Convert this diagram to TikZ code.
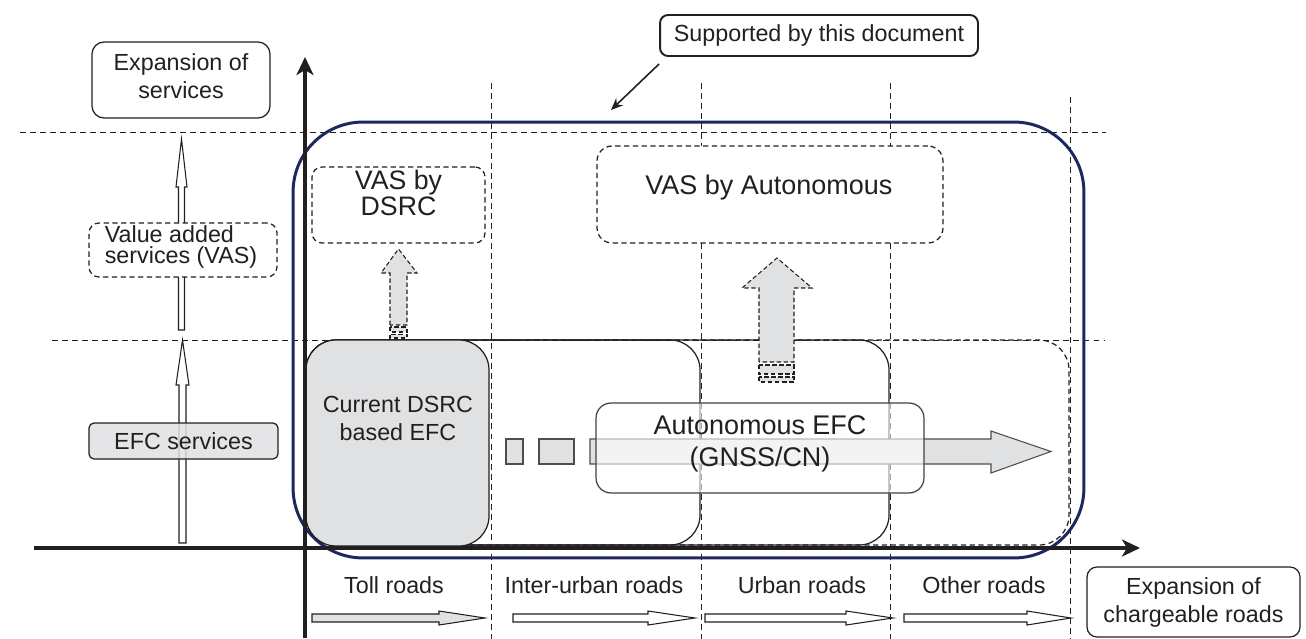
\documentclass[tikz,border=0pt]{standalone}
\usepackage{fontspec}
\setmainfont{Liberation Sans}
\usetikzlibrary{arrows.meta}
\definecolor{navy}{RGB}{30,40,95}
\definecolor{lgrey}{RGB}{224,225,227}
\definecolor{ink}{RGB}{35,31,32}
\newcommand{\tightlines}{\lineskiplimit=-20pt\relax}
\begin{document}
\begin{tikzpicture}[x=0.02cm,y=-0.02cm,
  every node/.style={text=ink, inner sep=0pt, font=\fontsize{13.26}{15.93}\selectfont},
  guide/.style={draw=ink, line width=0.55pt, dash pattern=on 3.4pt off 2.3pt},
  rbox/.style={draw=ink, line width=0.7pt, align=center},
  dbox/.style={draw=ink, line width=0.7pt, dash pattern=on 3pt off 2pt, fill=white},
  roadbox/.style={draw=ink, line width=0.7pt, rounded corners=0.6cm},
  upar/.style={draw=ink, fill=lgrey, line width=0.6pt, dash pattern=on 2.5pt off 1.5pt},
  rar/.style={draw=ink!80, fill=lgrey, line width=0.6pt},
  hol/.style={draw=ink, fill=white, line width=0.6pt},
  axis/.style={draw=ink, line width=2.3pt, -{Stealth[length=0.36cm, width=0.34cm, inset=0.1cm]}}
]
\useasboundingbox (0,0) rectangle (1306,639);

% guide lines
\draw[guide] (20,132) -- (1106,132);
\draw[guide] (52,340) -- (1104,340);
\draw[guide] (491,83) -- (491,639);
\draw[guide] (701,83) -- (701,639);
\draw[guide] (890,83) -- (890,639);
\draw[guide] (1070,97) -- (1070,639);

% scope of the document
\node[draw=navy, line width=1.7pt, rounded corners=1.4cm, minimum width=15.82cm, minimum height=8.72cm] (scopebox) at (688.5,340) {};

% road boxes
\draw[roadbox, dash pattern=on 3pt off 2pt] (306,340) rectangle (1069,545);
\draw[roadbox] (306,340) rectangle (889,545);
\draw[roadbox] (306,340) rectangle (700,545);
\draw[roadbox, fill=lgrey] (306,340) rectangle (489,546);
\node[align=center] (tolltext) at (398,418) {Current DSRC\\based EFC};

% VAS boxes
\node[dbox, rounded corners=0.2cm, minimum width=3.46cm, minimum height=1.52cm] (vasdbox) at (398.5,205) {};
\node[align=center, font=\fontsize{15.2}{14.3}\selectfont\tightlines] (vasdtext) at (398.5,193) {VAS by\\DSRC};
\node[dbox, rounded corners=0.3cm, minimum width=6.92cm, minimum height=1.94cm] (vasabox) at (770,194.5) {};
\node[font=\fontsize{15.36}{18}\selectfont] (vasatext) at (769,188) {VAS by Autonomous};

% dashed up arrows
\draw[upar] (390,325) -- (390,273) -- (381,273) -- (398.5,249) -- (417,273) -- (407,273) -- (407,325) -- cycle;
\draw[upar] (390,327) rectangle (407,332);
\draw[upar] (390,334.5) rectangle (407,338);
\draw[upar] (759,362) -- (759,288) -- (742,288) -- (777,258) -- (812,288) -- (794,288) -- (794,362) -- cycle;
\draw[upar] (759,365) rectangle (794,374);
\draw[upar] (759,377) rectangle (794,382);

% right arrow
\draw[rar] (506,439) rectangle (523,464);
\draw[rar] (539,439) rectangle (574,464);
\draw[rar] (590,439) -- (991,439) -- (991,431) -- (1051,451.5) -- (991,473) -- (991,464) -- (590,464) -- cycle;

% autonomous EFC
\node[draw=ink!85, line width=0.7pt, fill=white, fill opacity=0.6, rounded corners=0.3cm, minimum width=6.56cm, minimum height=1.8cm] (autobox) at (760,448) {};
\node[align=center, font=\fontsize{15.36}{18.2}\selectfont] (autotext) at (760,444) {Autonomous EFC\\(GNSS/CN)};

% axes
\coordinate (xstart) at (34,548);
\coordinate (xend) at (1140,548);
\coordinate (ystart) at (305,638);
\coordinate (yend) at (305,57);
\draw[axis] (xstart) -- (xend);
\draw[axis] (ystart) -- (yend);

% left hollow arrows
\draw[hol] (179,543) -- (179,385) -- (176,385) -- (182.5,340) -- (189,385) -- (186,385) -- (186,543) -- cycle;
\draw[hol] (178.5,330) -- (178.5,187) -- (176,187) -- (181.5,139) -- (187,187) -- (184.5,187) -- (184.5,330) -- cycle;

% left boxes
\node[rbox, rounded corners=0.24cm, minimum width=3.56cm, minimum height=1.52cm] (expSbox) at (181,80) {};
\node[align=center] (expStext) at (181,76) {Expansion of\\services};
\node[dbox, rounded corners=0.2cm, minimum width=3.76cm, minimum height=1.08cm] (vasbox) at (183,250) {};
\node[align=left, font=\fontsize{13.26}{11.95}\selectfont\tightlines] (vastext) at (181,247) {Value added\\services (VAS)};
\node[draw=ink, line width=0.7pt, fill=lgrey, fill opacity=0.85, text opacity=1, rounded corners=0.1cm, minimum width=3.78cm, minimum height=0.72cm] (efc) at (183.5,441) {EFC services};

% road labels
\node (toll) at (394,585) {Toll roads};
\node (inter) at (594,585) {Inter-urban roads};
\node (urban) at (802,585) {Urban roads};
\node (other) at (984,585) {Other roads};

% road arrows
\draw[hol, fill=lgrey] (312,614) -- (439,614) -- (439,611) -- (485,618) -- (439,625) -- (439,622) -- (312,622) -- cycle;
\draw[hol] (513,614) -- (648,614) -- (648,611) -- (695,618) -- (648,625) -- (648,622) -- (513,622) -- cycle;
\draw[hol] (705,614) -- (846,614) -- (846,611) -- (893,618) -- (846,625) -- (846,622) -- (705,622) -- cycle;
\draw[hol] (904,614) -- (1027,614) -- (1027,611) -- (1071,618) -- (1027,625) -- (1027,622) -- (904,622) -- cycle;

\node[rbox, rounded corners=0.2cm, minimum width=4.26cm, minimum height=1.4cm] (expC) at (1193.5,602) {Expansion of\\chargeable roads};

% supported by this document
\node[draw=ink, line width=1.1pt, rounded corners=0.16cm, minimum width=6.36cm, minimum height=0.82cm] (sup) at (819,35.5) {Supported by this document};
\coordinate (suptip) at (611,110);
\draw[ink, line width=0.9pt, -{Stealth[length=0.24cm, width=0.2cm]}] (sup.south west) ++(0,7) -- (suptip);
\end{tikzpicture}
\end{document}
